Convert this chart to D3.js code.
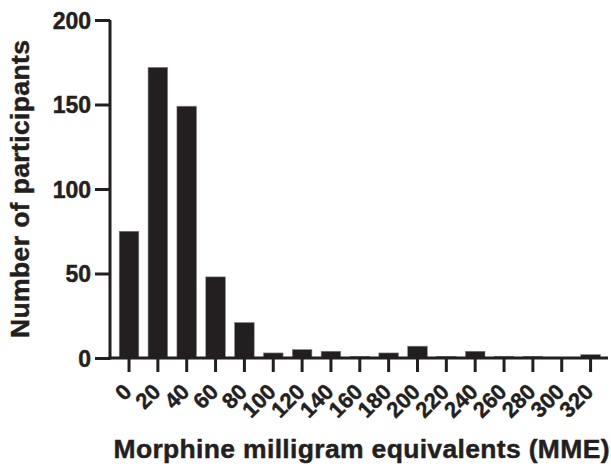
<!DOCTYPE html>
<html>
<head>
<meta charset="utf-8">
<script src="https://cdn.jsdelivr.net/npm/d3@7"></script>
<style>
	body { margin: 0; background: #fff; }
	text { font-family: "Liberation Sans", Arial, sans-serif; font-weight: bold; fill: #231f20; stroke: #231f20; stroke-width: 0.45px; }
</style>
</head>
<body>
<script>
const width = 611;
const height = 469;

// MME bins and number of participants in each
const categories = ["0", "20", "40", "60", "80", "100", "120", "140", "160", "180", "200", "220", "240", "260", "280", "300", "320"];
const counts = [75, 172, 149, 48, 21, 3, 5, 4, 1, 3, 7, 1, 4, 1, 1, 0, 2];
const yTicks = [0, 50, 100, 150, 200];

const ink = "#231f20";

document.addEventListener("DOMContentLoaded", function() {
	createBarChart();
});

function createBarChart() {
	const svg = d3.select("body")
		.append("svg")
		.attr("width", width)
		.attr("height", height);

	//y scale: 0 sits on the x axis, 200 at the top of the axis
	const yScale = d3.scaleLinear()
		.domain([0, 200])
		.range([358, 20]);

	//band scale, outer padding half of inner so bars sit centered on ticks
	const xScale = d3.scaleBand()
		.domain(categories)
		.range([114.6, 605])
		.paddingInner(0.32)
		.paddingOuter(0.16);

	//bars
	svg.selectAll("rect.bar")
		.data(counts)
		.enter()
		.append("rect")
		.attr("class", "bar")
		.attr("x", function(d, i) { return xScale(categories[i]); })
		.attr("y", function(d) { return yScale(d); })
		.attr("width", xScale.bandwidth())
		.attr("height", function(d) { return yScale(0) - yScale(d); })
		.attr("fill", ink)
		.attr("stroke", "#8a8889")
		.attr("stroke-width", 0.6);

	//y axis
	const yAxis = svg.append("g")
		.attr("transform", "translate(110,0)")
		.call(d3.axisLeft(yScale).tickValues(yTicks).tickSize(15).tickPadding(4));

	yAxis.select(".domain")
		.attr("d", "M0," + yScale(200) + "V" + (yScale(0) + 1.5))
		.attr("stroke", ink)
		.attr("stroke-width", 3);
	yAxis.selectAll(".tick line").attr("stroke", ink).attr("stroke-width", 3);
	yAxis.selectAll(".tick text")
		.style("font-size", "23px")
		.attr("dy", "0.36em");

	//x axis
	const xAxis = svg.append("g")
		.attr("transform", "translate(0," + yScale(0) + ")")
		.call(d3.axisBottom(xScale).tickSize(14).tickSizeOuter(0));

	xAxis.select(".domain")
		.attr("d", "M108.5,0H608")
		.attr("stroke", ink)
		.attr("stroke-width", 3);
	xAxis.selectAll(".tick line").attr("stroke", ink).attr("stroke-width", 3);
	xAxis.selectAll(".tick text")
		.style("font-size", "22px")
		.attr("text-anchor", "end")
		.attr("y", 0)
		.attr("dy", 0)
		.attr("transform", "translate(4,35) rotate(-45)");

	//axis titles
	svg.append("text")
		.attr("x", 361.5)
		.attr("y", 458)
		.attr("text-anchor", "middle")
		.attr("textLength", 496)
		.attr("lengthAdjust", "spacing")
		.style("font-size", "26.5px")
		.text("Morphine milligram equivalents (MME)");

	svg.append("text")
		.attr("transform", "translate(29,189) rotate(-90)")
		.attr("text-anchor", "middle")
		.attr("textLength", 298)
		.attr("lengthAdjust", "spacing")
		.style("font-size", "26.5px")
		.text("Number of participants");
}
</script>
</body>
</html>
